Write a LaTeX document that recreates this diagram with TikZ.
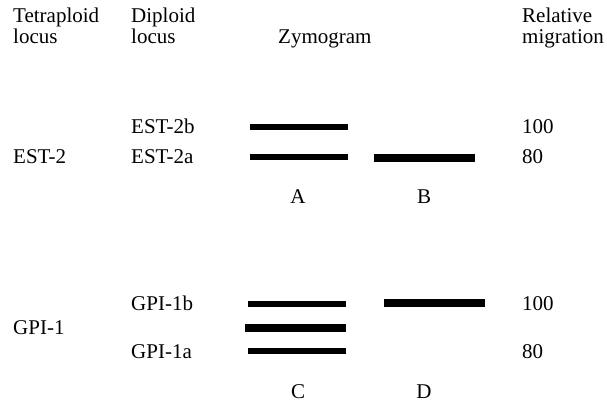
\documentclass[tikz,border=0pt]{standalone}
\usepackage{fontspec}
\setmainfont{Liberation Serif}
\begin{document}
\begin{tikzpicture}[x=1pt,y=-1pt,
  lbl/.style={anchor=base west,inner sep=0pt,font=\fontsize{21}{21}\selectfont},
  ctr/.style={anchor=base,inner sep=0pt,font=\fontsize{21}{21}\selectfont},
  band/.style={line width=5.5pt},
  bandthick/.style={line width=7.5pt}]
\useasboundingbox (0,0) rectangle (607,403);
% header
\node[lbl] (tet1) at (13,23) {Tetraploid};
\node[lbl] (tet2) at (13,44) {locus};
\node[lbl] (dip1) at (131,23) {Diploid};
\node[lbl] (dip2) at (131,44) {locus};
\node[lbl] (zym) at (278,44) {Zymogram};
\node[lbl] (rel1) at (522,23) {Relative};
\node[lbl] (rel2) at (522,44) {migration};
% EST
\node[lbl] (est) at (13,164) {EST-2};
\node[lbl] (est2b) at (131,134) {EST-2b};
\node[lbl] (est2a) at (131,164) {EST-2a};
\node[lbl] (m100a) at (522,134) {100};
\node[lbl] (m80a) at (522,164) {80};
\draw[band] (250,127) -- (348,127);
\draw[band] (250,157) -- (348,157);
\draw[bandthick] (374,158) -- (475,158);
\node[ctr] (A) at (298,204) {A};
\node[ctr] (B) at (424,204) {B};
% GPI
\node[lbl] (gpi) at (13,334) {GPI-1};
\node[lbl] (gpi1b) at (131,310) {GPI-1b};
\node[lbl] (gpi1a) at (131,358) {GPI-1a};
\node[lbl] (m100b) at (522,310) {100};
\node[lbl] (m80b) at (522,358) {80};
\draw[band] (248,304) -- (346,304);
\draw[bandthick] (245,328) -- (346,328);
\draw[band] (248,351) -- (346,351);
\draw[bandthick] (384,303) -- (485,303);
\node[ctr] (C) at (298,398) {C};
\node[ctr] (D) at (424,398) {D};
\end{tikzpicture}
\end{document}
